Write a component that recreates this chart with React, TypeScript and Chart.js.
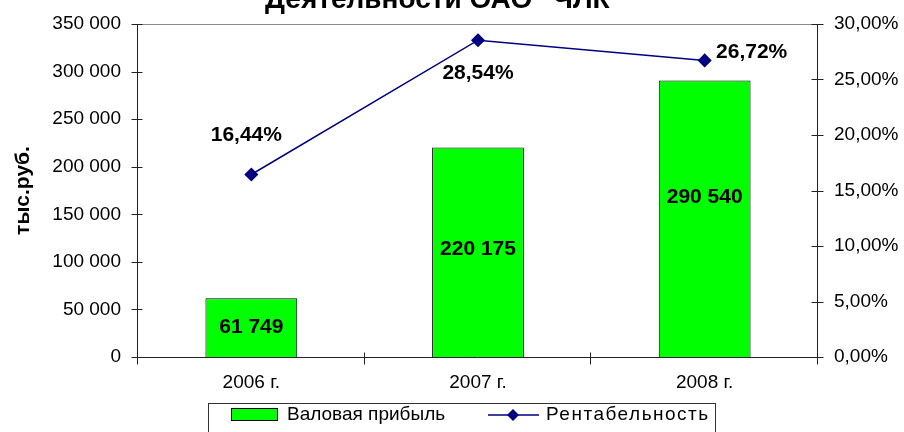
import { useEffect, useRef } from 'react';
import { Chart, registerables } from 'chart.js';

Chart.register(...registerables);

const categories = ['2006 г.', '2007 г.', '2008 г.'];
const grossProfit = [61749, 220175, 290540];
const profitability = [16.44, 28.54, 26.72];
const seriesNames = ['Валовая прибыль', 'Рентабельность'];
const titleText = 'Деятельности ОАО "ЧЛК"';
const yAxisTitle = 'тыс.руб.';

const FONT = "'Liberation Sans', Arial, sans-serif";
const GREEN = '#00FF00';
const NAVY = '#000080';

// label placement tweaks (style only)
const barLabelOffsets = [[0, 0], [0, -3], [0, -22]];
const lineLabelOffsets = [[-5, -39], [0, 33], [47, -8]];

const fmtThousands = (v: number) => String(Math.round(v)).replace(/\B(?=(\d{3})+(?!\d))/g, ' ');
const fmtPercent = (v: number) => v.toFixed(2).replace('.', ',') + '%';

const decor = {
  id: 'decor',
  beforeDatasetsDraw(chart: any) {
    const { ctx, chartArea: a, scales } = chart;
    ctx.save();
    ctx.lineWidth = 1;
    const L = Math.round(a.left) - 0.5;
    const R = Math.round(a.right) - 0.5;
    const T = Math.round(a.top) + 0.5;
    const B = Math.round(a.bottom) + 0.5;
    ctx.strokeStyle = '#8a8a8a';
    ctx.beginPath();
    ctx.moveTo(L, T);
    ctx.lineTo(R, T);
    ctx.stroke();
    ctx.strokeStyle = '#222';
    ctx.beginPath();
    ctx.moveTo(L, T);
    ctx.lineTo(L, B);
    ctx.moveTo(R, T);
    ctx.lineTo(R, B);
    ctx.moveTo(L - 5, B);
    ctx.lineTo(R + 5, B);
    const yl = scales.y;
    yl.ticks.forEach((t: any) => {
      const py = Math.round(yl.getPixelForValue(t.value)) + 0.5;
      ctx.moveTo(L - 6, py);
      ctx.lineTo(L + 5, py);
    });
    const yr = scales.y1;
    yr.ticks.forEach((t: any) => {
      const py = Math.round(yr.getPixelForValue(t.value)) + 0.5;
      ctx.moveTo(R - 6, py);
      ctx.lineTo(R + 6, py);
    });
    const xs = scales.x;
    const half = (xs.getPixelForValue(1) - xs.getPixelForValue(0)) / 2;
    for (let i = 0; i <= categories.length; i++) {
      const px = Math.round(xs.getPixelForValue(i) - half) - 0.5;
      ctx.moveTo(px, B - 5);
      ctx.lineTo(px, B + 7);
    }
    ctx.stroke();
    ctx.restore();
  },
  afterDatasetsDraw(chart: any) {
    const { ctx } = chart;
    ctx.save();
    ctx.fillStyle = '#000';
    ctx.font = `bold 21px ${FONT}`;
    ctx.textAlign = 'center';
    ctx.textBaseline = 'middle';
    const barMeta = chart.getDatasetMeta(0);
    barMeta.data.forEach((el: any, i: number) => {
      const v = chart.data.datasets[0].data[i] as number;
      const [dx, dy] = barLabelOffsets[i];
      ctx.fillText(fmtThousands(v), el.x + dx, (el.y + el.base) / 2 + dy);
    });
    const lineMeta = chart.getDatasetMeta(1);
    lineMeta.data.forEach((el: any, i: number) => {
      const v = chart.data.datasets[1].data[i] as number;
      const [dx, dy] = lineLabelOffsets[i];
      ctx.fillText(fmtPercent(v), el.x + dx, el.y + dy);
    });
    ctx.restore();
  },
  afterDraw(chart: any) {
    const { ctx } = chart;
    ctx.save();
    // title (its first line lies outside the picture)
    ctx.fillStyle = '#000';
    ctx.font = `bold 28px ${FONT}`;
    ctx.textAlign = 'center';
    ctx.textBaseline = 'alphabetic';
    ctx.fillText(titleText, 444, 8);
    // legend
    const ds = chart.data.datasets;
    ctx.strokeStyle = '#333';
    ctx.lineWidth = 1;
    ctx.strokeRect(208.5, 403.5, 507, 34);
    ctx.fillStyle = ds[0].backgroundColor;
    ctx.fillRect(231, 408, 47, 13);
    ctx.strokeStyle = '#000';
    ctx.strokeRect(231.5, 408.5, 46, 12);
    ctx.fillStyle = '#000';
    ctx.font = `19px ${FONT}`;
    ctx.textAlign = 'left';
    ctx.textBaseline = 'middle';
    ctx.fillText(ds[0].label, 287, 415);
    ctx.strokeStyle = ds[1].borderColor;
    ctx.lineWidth = 1.5;
    ctx.beginPath();
    ctx.moveTo(488, 415);
    ctx.lineTo(539, 415);
    ctx.stroke();
    ctx.fillStyle = ds[1].borderColor;
    ctx.beginPath();
    ctx.moveTo(513, 409);
    ctx.lineTo(519, 415);
    ctx.lineTo(513, 421);
    ctx.lineTo(507, 415);
    ctx.closePath();
    ctx.fill();
    ctx.fillStyle = '#000';
    (ctx as any).letterSpacing = '1.5px';
    ctx.fillText(ds[1].label, 546, 415);
    ctx.restore();
  },
};

export default function App() {
  const ref = useRef<HTMLCanvasElement | null>(null);
  useEffect(() => {
    document.body.style.margin = '0';
    const canvas = ref.current!;
    const chart = new Chart(canvas, {
      type: 'bar',
      data: {
        labels: categories,
        datasets: [
          {
            type: 'bar',
            label: seriesNames[0],
            data: grossProfit,
            backgroundColor: GREEN,
            borderColor: '#000',
            borderWidth: 1,
            barPercentage: 0.405,
            categoryPercentage: 1,
            yAxisID: 'y',
            order: 2,
          },
          {
            type: 'line',
            label: seriesNames[1],
            data: profitability,
            borderColor: NAVY,
            backgroundColor: NAVY,
            borderWidth: 1.5,
            pointStyle: 'rectRot',
            pointRadius: 6,
            pointBackgroundColor: NAVY,
            pointBorderColor: NAVY,
            tension: 0,
            yAxisID: 'y1',
            order: 1,
          } as any,
        ],
      },
      plugins: [decor],
      options: {
        animation: false,
        responsive: false,
        maintainAspectRatio: false,
        layout: { padding: { top: 24, left: 0, right: 0, bottom: 0 } },
        plugins: {
          legend: { display: false },
          title: { display: false },
          tooltip: { enabled: false },
        },
        scales: {
          x: {
            grid: { display: false, drawTicks: false },
            border: { display: false },
            ticks: { color: '#000', font: { family: FONT, size: 19 }, padding: 14 },
            afterFit: (s: any) => { s.height = 75; s.paddingLeft = 0; s.paddingRight = 0; },
          },
          y: {
            position: 'left',
            min: 0,
            max: 350000,
            grid: { display: false, drawTicks: false },
            border: { display: false },
            ticks: {
              stepSize: 50000,
              color: '#000',
              font: { family: FONT, size: 19 },
              padding: 17,
              callback: (v: any) => fmtThousands(Number(v)),
            },
            title: {
              display: true,
              text: yAxisTitle,
              color: '#000',
              font: { family: FONT, size: 21, weight: 'bold' },
              padding: { top: 11, bottom: 0 },
            },
            afterFit: (s: any) => { s.width = 138; s.paddingTop = 0; s.paddingBottom = 0; },
          },
          y1: {
            position: 'right',
            min: 0,
            max: 30,
            grid: { display: false, drawTicks: false },
            border: { display: false },
            ticks: {
              stepSize: 5,
              color: '#000',
              font: { family: FONT, size: 19 },
              padding: 16,
              callback: (v: any) => fmtPercent(Number(v)),
            },
            afterFit: (s: any) => { s.width = 86; s.paddingTop = 0; s.paddingBottom = 0; },
          },
        },
      },
    });
    return () => chart.destroy();
  }, []);
  return (
    <div style={{ width: 904, height: 432 }}>
      <canvas ref={ref} width={904} height={432} style={{ display: 'block' }} />
    </div>
  );
}
